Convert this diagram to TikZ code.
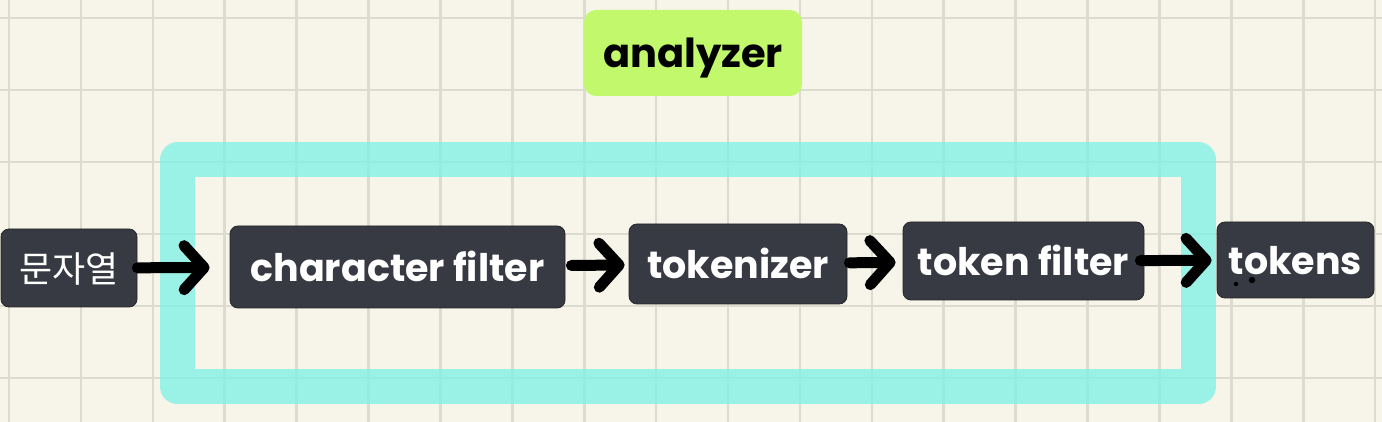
\documentclass[tikz,border=0pt]{standalone}
\usepackage{fontspec}
\setmainfont{Poppins}
\newfontfamily\kofont{Noto Sans CJK KR}
\usetikzlibrary{arrows.meta}

\definecolor{paper}{HTML}{F7F5E9}
\definecolor{gridgray}{HTML}{DCDBCF}
\definecolor{boxdark}{HTML}{373A42}
\definecolor{limegreen}{HTML}{C2F86B}
\definecolor{aqua}{RGB}{131,241,230}

\tikzset{
  gridline/.style={gridgray, line width=1.3pt},
  frameline/.style={aqua, opacity=0.8, line width=17.5pt, line join=round},
  block/.style={rectangle, rounded corners=4pt, fill=boxdark, draw=black!85,
    line width=0.4pt, text=white, inner sep=0pt, text depth=0pt,
    font=\fontsize{19}{23}\selectfont\bfseries, text height=14.5pt},
  koblock/.style={block, font=\kofont\fontsize{18}{21}\selectfont, text height=15pt},
  title/.style={rectangle, rounded corners=6pt, fill=limegreen, text=black,
    inner sep=0pt, text depth=0pt, text height=15pt,
    font=\fontsize{20}{24}\selectfont\bfseries},
  flow/.style={line width=5.5pt, line cap=round,
    -{Straight Barb[length=10pt, width=22pt, round]}},
}

\begin{document}
\begin{tikzpicture}[x=0.5pt, y=-0.5pt]
\useasboundingbox (0,0) rectangle (1382,422);
\fill[paper] (0,0) rectangle (1382,422);

\foreach \gx in {0,...,19}
  \draw[gridline] ({9+71.9*\gx},0) -- ({9+71.9*\gx},422);
\foreach \gy in {18,90,...,378}
  \draw[gridline] (0,\gy) -- (1382,\gy);

\draw[frameline] (177.5,160) rectangle (1198.5,386.5);

\node[title, minimum width=109pt, minimum height=43pt] (analyzer) at (693,53) {analyzer};

\node[koblock, minimum width=68pt, minimum height=39pt] (src) at (69,268) {문자열};
\node[block, minimum width=167.5pt, minimum height=41pt] (charf) at (397.5,267) {character filter};
\node[block, minimum width=109pt, minimum height=40pt] (tokenizer) at (738,264) {tokenizer};
\node[block, minimum width=120.5pt, minimum height=39pt] (tokenf) at (1023.5,261) {token filter};
\node[block, minimum width=78.5pt, minimum height=38pt] (tokens) at (1295.5,260) {tokens};

\fill (1236,284) circle (1.1pt);
\fill (1252,280) circle (1.6pt);

\draw[flow, shorten >=10pt] (src) -- (charf);
\draw[flow, shorten <=3pt, shorten >=2pt] (charf) -- (tokenizer);
\draw[flow, shorten <=1pt, shorten >=3.5pt] (tokenizer) -- (tokenf);
\draw[flow, shorten <=-2pt, shorten >=2.5pt] (tokenf) -- (tokens);
\end{tikzpicture}
\end{document}
